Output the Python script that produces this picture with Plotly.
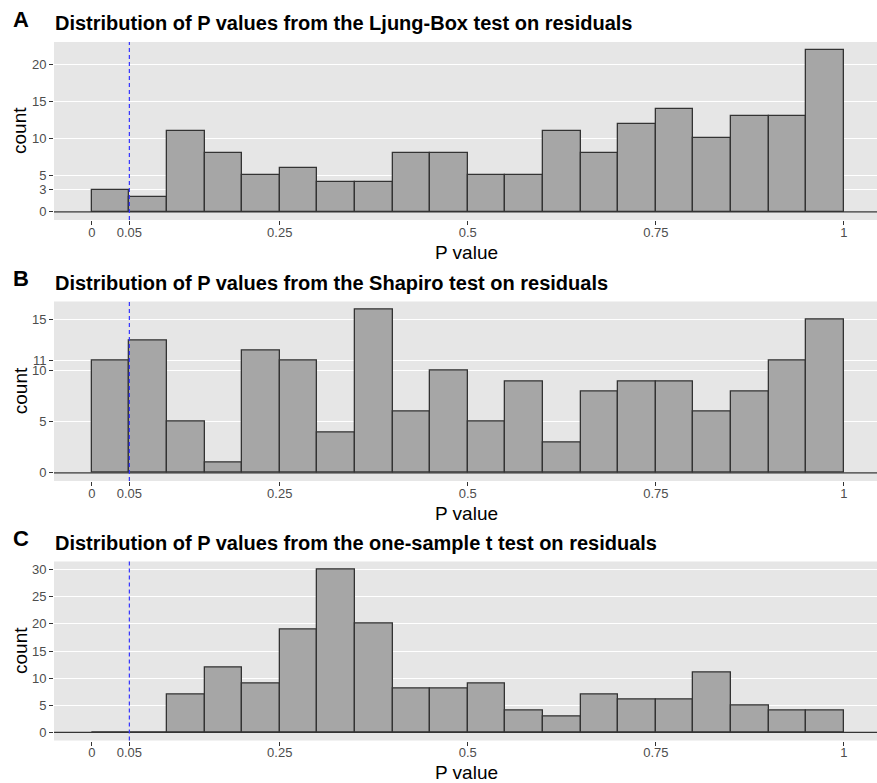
import plotly.graph_objects as go

# ---------------- data ----------------
bin_width = 0.05
bin_starts = [0.00, 0.05, 0.10, 0.15, 0.20, 0.25, 0.30, 0.35, 0.40, 0.45,
              0.50, 0.55, 0.60, 0.65, 0.70, 0.75, 0.80, 0.85, 0.90, 0.95]

counts_ljung = [3, 2, 11, 8, 5, 6, 4, 4, 8, 8, 5, 5, 11, 8, 12, 14, 10, 13, 13, 22]
counts_shapiro = [11, 13, 5, 1, 12, 11, 4, 16, 6, 10, 5, 9, 3, 8, 9, 9, 6, 8, 11, 15]
counts_ttest = [0, 0, 7, 12, 9, 19, 30, 20, 8, 8, 9, 4, 3, 7, 6, 6, 11, 5, 4, 4]

panel_letters = ["A", "B", "C"]
panel_titles = [
    "Distribution of P values from the Ljung-Box test on residuals",
    "Distribution of P values from the Shapiro test on residuals",
    "Distribution of P values from the one-sample t test on residuals",
]
x_tick_vals = [0, 0.05, 0.25, 0.5, 0.75, 1]
x_tick_text = ["0", "0.05", "0.25", "0.5", "0.75", "1"]
y_ticks = [
    [0, 3, 5, 10, 15, 20],
    [0, 5, 10, 11, 15],
    [0, 5, 10, 15, 20, 25, 30],
]
threshold = 0.05
x_label = "P value"
y_label = "count"

# ---------------- layout geometry ----------------
W, H = 877, 783
ML = 54
FONT = "Liberation Sans, Arial, sans-serif"

# pixel (top, bottom) of each panel
panels_px = [(42, 220), (301.5, 481), (561.5, 740.5)]
y_ranges = [[-1.1, 23.1], [-0.8, 16.8], [-1.5, 31.5]]
x_range = [-0.0502, 1.0441]

def py(p):
    return 1 - p / H

def px(p):
    return (p - ML) / (W - ML)

fig = go.Figure()
all_counts = [counts_ljung, counts_shapiro, counts_ttest]
bin_centers = [s + bin_width / 2 for s in bin_starts]

layout = dict(
    width=W, height=H,
    margin=dict(l=ML, r=0, t=0, b=0),
    paper_bgcolor="white",
    plot_bgcolor="#E6E6E6",
    showlegend=False,
    font=dict(family=FONT),
    bargap=0,
)
annotations = []
shapes = []

for i in range(3):
    n = "" if i == 0 else str(i + 1)
    xa, ya = "x" + n, "y" + n
    top, bot = panels_px[i]
    fig.add_trace(go.Bar(
        x=bin_centers, y=all_counts[i], width=bin_width,
        xaxis=xa, yaxis=ya,
        marker=dict(color="#A6A6A6", line=dict(color="#333333", width=1.3)),
        hoverinfo="x+y",
    ))
    layout["xaxis" + n] = dict(
        domain=[0, 1], range=x_range, anchor=ya,
        showgrid=False, zeroline=False, showline=False,
        tickmode="array", tickvals=x_tick_vals, ticktext=x_tick_text,
        ticks="outside", ticklen=4, tickwidth=1, tickcolor="#333333",
        ticklabelstandoff=-4,
        tickfont=dict(size=13, color="#4D4D4D", family=FONT),
    )
    layout["yaxis" + n] = dict(
        domain=[py(bot), py(top)], range=y_ranges[i], anchor=xa,
        showgrid=True, gridcolor="white", gridwidth=1.2,
        zeroline=False, showline=False,
        tickmode="array", tickvals=y_ticks[i],
        ticks="outside", ticklen=4, tickwidth=1, tickcolor="#333333",
        tickfont=dict(size=13, color="#4D4D4D", family=FONT),
    )
    # baseline at 0
    shapes.append(dict(type="line", xref=xa + " domain", yref=ya,
                       x0=0, x1=1, y0=0, y1=0,
                       line=dict(color="#333333", width=1.3)))
    # threshold line
    shapes.append(dict(type="line", xref=xa, yref=ya + " domain",
                       x0=threshold, x1=threshold, y0=0, y1=1,
                       line=dict(color="#3333FF", width=1.2, dash="4px,3px")))
    # letter
    annotations.append(dict(text="<b>%s</b>" % panel_letters[i], xref="paper", yref="paper",
                            x=px(11), y=py(top - 23), xanchor="left", yanchor="middle",
                            showarrow=False, font=dict(size=22, color="black", family=FONT)))
    # title
    annotations.append(dict(text="<b>%s</b>" % panel_titles[i], xref="paper", yref="paper",
                            x=px(53), y=py(top - 19), xanchor="left", yanchor="middle",
                            showarrow=False, font=dict(size=20, color="black", family=FONT)))
    # axis titles
    annotations.append(dict(text=x_label, xref="paper", yref="paper",
                            x=px(466), y=py(bot + 32), xanchor="center", yanchor="middle",
                            showarrow=False, font=dict(size=19, color="black", family=FONT)))
    annotations.append(dict(text=y_label, xref="paper", yref="paper",
                            x=px(20), y=py((top + bot) / 2), xanchor="center", yanchor="middle",
                            textangle=-90,
                            showarrow=False, font=dict(size=19, color="black", family=FONT)))

layout["annotations"] = annotations
layout["shapes"] = shapes
fig.update_layout(**layout)
fig.write_html("out.html")
